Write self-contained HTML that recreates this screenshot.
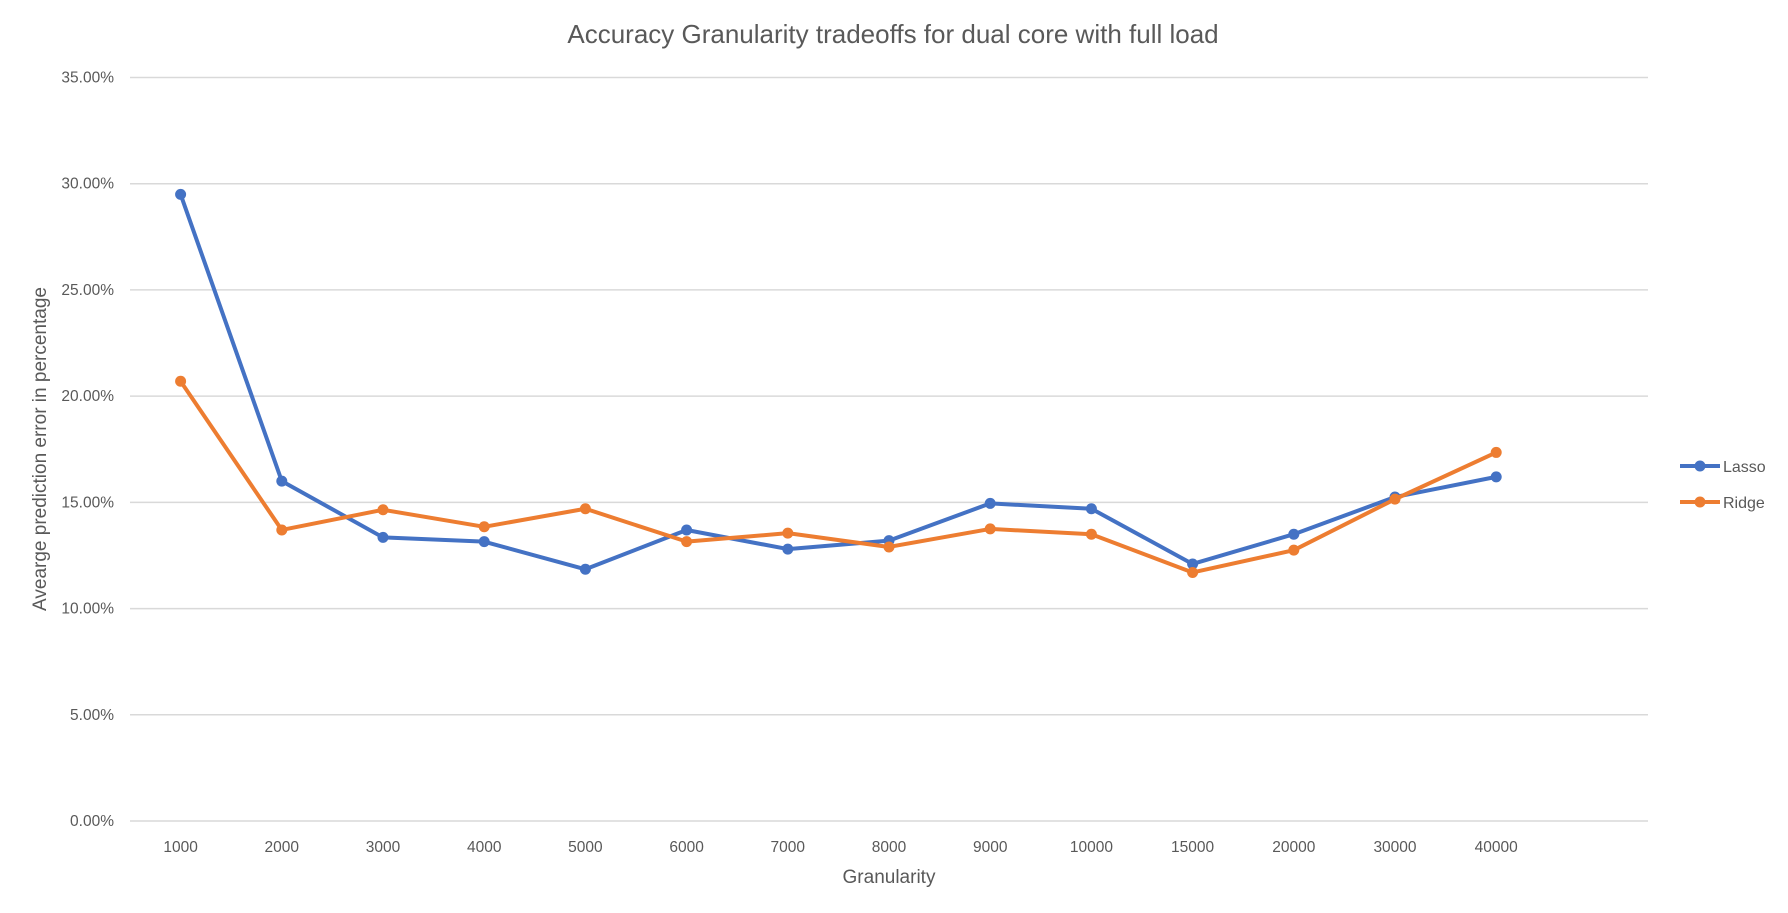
<!DOCTYPE html>
<html><head><meta charset="utf-8"><style>
body{margin:0;background:#fff;}
svg{display:block;font-family:"Liberation Sans",Calibri,sans-serif;}
</style></head><body>
<svg id="chart" width="1788" height="913" viewBox="0 0 1788 913">
<rect width="1788" height="913" fill="#fff"/>
<text x="893" y="43" text-anchor="middle" font-size="26" fill="#595959">Accuracy Granularity tradeoffs for dual core with full load</text>
<g id="grid"></g><g id="ylabels"></g><g id="xlabels"></g><g id="series"></g>
<text x="889" y="883" text-anchor="middle" font-size="19" fill="#595959">Granularity</text>
<text transform="translate(46,449) rotate(-90)" text-anchor="middle" font-size="19" fill="#595959">Avearge prediction error in percentage</text>
<g>
<g><line x1="1680" y1="466" x2="1720" y2="466" stroke="#4472C4" stroke-width="4"/><circle cx="1700" cy="466" r="5.5" fill="#4472C4"/><text x="1723" y="472" font-size="16" fill="#595959">Lasso</text></g>
<g><line x1="1680" y1="502" x2="1720" y2="502" stroke="#ED7D31" stroke-width="4"/><circle cx="1700" cy="502" r="5.5" fill="#ED7D31"/><text x="1723" y="508" font-size="16" fill="#595959">Ridge</text></g>
</g>
</svg>
<script>
const categories=["1000","2000","3000","4000","5000","6000","7000","8000","9000","10000","15000","20000","30000","40000"];
const lasso=[29.5,16.0,13.35,13.15,11.85,13.7,12.8,13.2,14.95,14.7,12.1,13.5,15.25,16.2];
const ridge=[20.7,13.7,14.65,13.85,14.7,13.15,13.55,12.9,13.75,13.5,11.7,12.75,15.15,17.35];
const yTicks=[0,5,10,15,20,25,30,35];
const NS="http://www.w3.org/2000/svg";
const L=130,R=1648,Y0=821,Y35=77.5,slots=15;
const bw=(R-L)/slots;
function xs(i){return L+bw*(i+0.5);}
function ys(v){return Y0-(v/35)*(Y0-Y35);}
function mk(t,a,p){const e=document.createElementNS(NS,t);for(const k in a)e.setAttribute(k,a[k]);p.appendChild(e);return e;}
const grid=document.getElementById('grid'),yl=document.getElementById('ylabels'),xl=document.getElementById('xlabels'),sg=document.getElementById('series');
yTicks.forEach(v=>{
 const ln=mk('line',{x1:L,x2:R,y1:ys(v),y2:ys(v),stroke:'#d9d9d9','stroke-width':1.5},grid);
 
 
 const t=mk('text',{x:114,y:ys(v)+5,'text-anchor':'end','font-size':15.5,fill:'#595959'},yl);
 t.textContent=v.toFixed(2)+'%';
 
 
});
categories.forEach((c,i)=>{
 const t=mk('text',{x:xs(i),y:852,'text-anchor':'middle','font-size':15.5,fill:'#595959'},xl);
 t.textContent=c;
 
 
});
function drawSeries(vals,color,name){
 const g=mk('g',{},sg);
 
 
 const pl=mk('polyline',{points:vals.map((v,i)=>xs(i)+','+ys(v)).join(' '),fill:'none',stroke:color,'stroke-width':4,'stroke-linejoin':'round'},g);
 
 
 vals.forEach((v,i)=>{
  const c=mk('circle',{cx:xs(i),cy:ys(v),r:5.5,fill:color},g);
  
  
 });
}
drawSeries(lasso,'#4472C4','lasso');
drawSeries(ridge,'#ED7D31','ridge');
</script>
</body></html>
